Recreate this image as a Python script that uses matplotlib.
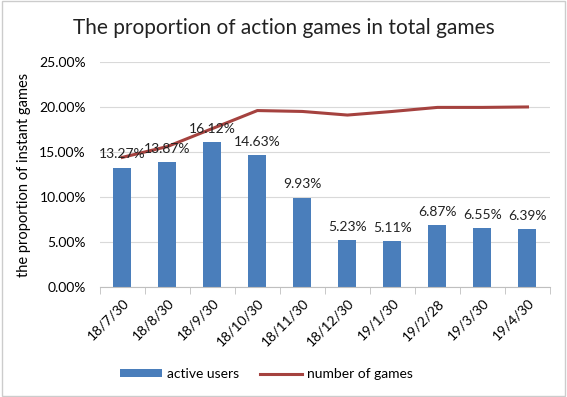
import matplotlib.pyplot as plt
from matplotlib.ticker import FuncFormatter

plt.rcParams['font.family'] = ['Lato', 'DejaVu Sans']

dates = ['18/7/30', '18/8/30', '18/9/30', '18/10/30', '18/11/30',
         '18/12/30', '19/1/30', '19/2/28', '19/3/30', '19/4/30']
active_users = [13.27, 13.87, 16.12, 14.63, 9.93, 5.23, 5.11, 6.87, 6.55, 6.39]
number_of_games = [14.4, 15.6, 17.6, 19.6, 19.5, 19.1, 19.5, 19.95, 19.95, 20.0]

fig = plt.figure(figsize=(5.67, 3.97), dpi=100)
ax = fig.add_axes([0.176, 0.277, 0.794, 0.567])

x = range(len(dates))
bars = ax.bar(x, active_users, width=0.4, color='#4a7ebb', label='active users', zorder=2)
line, = ax.plot(x, number_of_games, color='#a5423f', lw=2.2, label='number of games', zorder=3)

for xi, v in zip(x, active_users):
    ax.text(xi, v + 0.8, f'{v:.2f}%', ha='center', va='bottom', fontsize=10, color='#222222')

ax.set_ylim(0, 25)
ax.set_yticks([0, 5, 10, 15, 20, 25])
ax.yaxis.set_major_formatter(FuncFormatter(lambda v, p: f'{v:.2f}%'))
ax.set_xlim(-0.5, len(dates) - 0.5)
ax.set_xticks(list(x))
ax.set_xticklabels(dates, rotation=45, ha='right', rotation_mode='anchor', fontsize=10)
ax.set_xticks([i - 0.5 for i in range(len(dates) + 1)], minor=True)
ax.tick_params(axis='x', which='minor', length=5, color='#bfbfbf')
ax.tick_params(axis='y', length=0, labelsize=10, pad=10)
ax.tick_params(axis='x', which='major', length=0, pad=7)
ax.grid(axis='y', color='#d9d9d9', lw=0.8, zorder=0)
for s in ['top', 'right', 'left']:
    ax.spines[s].set_visible(False)
ax.spines['bottom'].set_color('#bfbfbf')
ax.set_ylabel('the proportion of instant games', fontsize=10.5, labelpad=6)

fig.suptitle('The proportion of action games in total games', fontsize=15, y=0.93,
             va='center', color='#222222')
fig.legend(handles=[bars, line], loc='center', bbox_to_anchor=(0.47, 0.058), ncol=2,
           frameon=False, fontsize=10, handlelength=3, handleheight=0.5,
           columnspacing=1.5, handletextpad=0.4)

fig.patches.append(plt.Rectangle((0.003, 0.003), 0.994, 0.994, transform=fig.transFigure,
                                 fill=False, edgecolor='#cccccc', lw=1))
fig.savefig('out.png', dpi=100)
